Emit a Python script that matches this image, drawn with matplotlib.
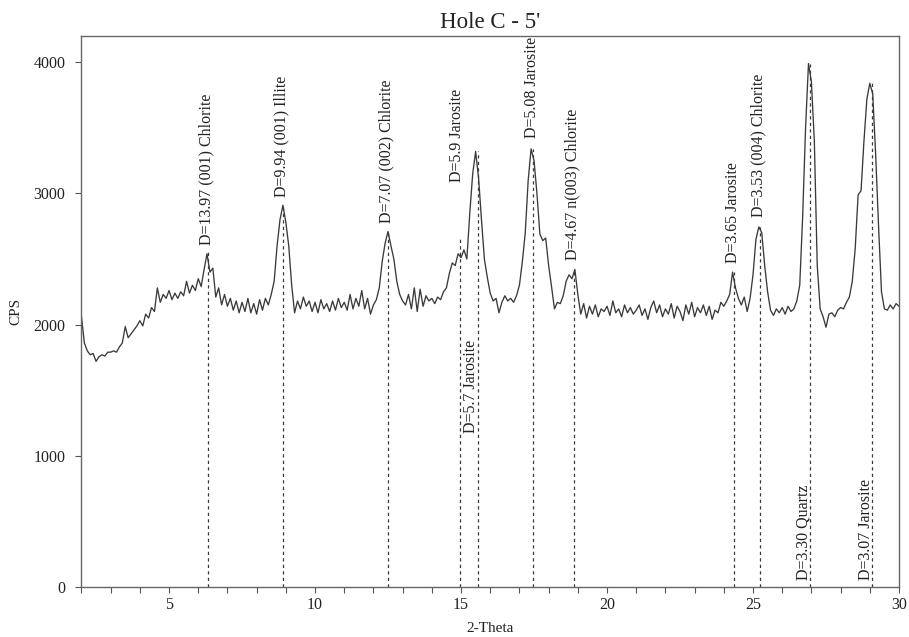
import matplotlib
matplotlib.use("Agg")
import matplotlib.pyplot as plt
from matplotlib.ticker import MultipleLocator
import numpy as np

plt.rcParams['font.family'] = ['Liberation Serif', 'DejaVu Serif']

# 2-theta grid (0.1 deg steps) and counts
two_theta = np.round(np.arange(20, 301) / 10.0, 1)
cps = [
    2060, 1860, 1800, 1770, 1780, 1720, 1755, 1770, 1760, 1790,   # 2.0
    1790, 1800, 1790, 1830, 1860, 1985, 1900, 1930, 1960, 1990,   # 3.0
    2030, 1990, 2080, 2050, 2130, 2100, 2280, 2170, 2230, 2200,   # 4.0
    2260, 2190, 2240, 2200, 2250, 2220, 2330, 2240, 2300, 2260,   # 5.0
    2350, 2290, 2420, 2540, 2400, 2430, 2210, 2280, 2150, 2230,   # 6.0
    2140, 2200, 2110, 2180, 2090, 2170, 2100, 2200, 2090, 2160,   # 7.0
    2080, 2190, 2110, 2200, 2150, 2230, 2330, 2600, 2800, 2910,   # 8.0
    2780, 2600, 2300, 2090, 2180, 2120, 2210, 2140, 2180, 2100,   # 9.0
    2170, 2090, 2190, 2120, 2160, 2100, 2180, 2110, 2200, 2130,   # 10.0
    2170, 2110, 2230, 2120, 2200, 2140, 2260, 2120, 2200, 2080,   # 11.0
    2150, 2190, 2280, 2480, 2620, 2710, 2600, 2500, 2330, 2230,   # 12.0
    2180, 2150, 2230, 2120, 2280, 2100, 2270, 2140, 2220, 2180,   # 13.0
    2200, 2160, 2210, 2190, 2250, 2280, 2390, 2470, 2450, 2540,   # 14.0
    2510, 2570, 2500, 2850, 3150, 3320, 3120, 2800, 2500, 2360,   # 15.0
    2240, 2180, 2200, 2090, 2170, 2220, 2180, 2200, 2170, 2220,   # 16.0
    2300, 2480, 2700, 3100, 3340, 3250, 3000, 2690, 2640, 2660,   # 17.0
    2450, 2290, 2120, 2170, 2160, 2220, 2330, 2380, 2350, 2420,   # 18.0
    2230, 2080, 2160, 2050, 2140, 2080, 2150, 2060, 2120, 2100,   # 19.0
    2140, 2070, 2180, 2090, 2120, 2060, 2150, 2090, 2130, 2080,   # 20.0
    2110, 2150, 2070, 2120, 2040, 2130, 2180, 2090, 2150, 2060,   # 21.0
    2120, 2080, 2160, 2050, 2140, 2100, 2030, 2150, 2080, 2170,   # 22.0
    2060, 2130, 2090, 2150, 2070, 2140, 2040, 2110, 2090, 2170,   # 23.0
    2140, 2180, 2230, 2400, 2280, 2200, 2150, 2210, 2100, 2200,   # 24.0
    2380, 2650, 2745, 2700, 2450, 2250, 2110, 2070, 2120, 2090,   # 25.0
    2130, 2080, 2140, 2100, 2120, 2180, 2300, 2820, 3500, 3990,   # 26.0
    3850, 3400, 2450, 2120, 2060, 1980, 2080, 2090, 2060, 2110,   # 27.0
    2130, 2120, 2170, 2210, 2330, 2580, 2990, 3020, 3400, 3720,   # 28.0
    3840, 3760, 3300, 2750, 2250, 2120, 2110, 2150, 2120, 2160,   # 29.0
    2140,                                                         # 30.0
]

# identified reflections
peak_pos = [6.34, 8.9, 12.5, 14.96, 15.57, 17.47, 18.87, 24.35, 25.24, 26.96, 29.07]
peak_top = [2550, 2910, 2710, 2670, 3320, 3340, 2420, 2400, 2745, 3990, 3840]
peak_names = ['D=13.97 (001) Chlorite', 'D=9.94 (001) Illite', 'D=7.07 (002) Chlorite',
              'D=5.9 Jarosite', 'D=5.7 Jarosite', 'D=5.08 Jarosite',
              'D=4.67 n(003) Chlorite', 'D=3.65 Jarosite', 'D=3.53 (004) Chlorite',
              'D=3.30 Quartz', 'D=3.07 Jarosite']
# where each label starts (bottom of rotated text) and its sideways shift
label_y = [2610, 2975, 2775, 3090, 1175, 3425, 2495, 2470, 2820, 55, 55]
label_dx = [-1, -1, -1, -2, -4.5, -1, -1, -1, -1, -4.5, -4.5]

fig = plt.figure(figsize=(9.09, 6.37), dpi=100)
ax = fig.add_axes([0.0896, 0.0785, 0.8994, 0.865])

ink = '#3a3a3a'
ax.plot(two_theta, cps, color=ink, lw=0.95)
ax.vlines(peak_pos, 0, peak_top, colors=ink, linestyles=(0, (2.6, 2.6)), lw=0.9)

for x, name, y, dx in zip(peak_pos, peak_names, label_y, label_dx):
    ax.annotate(name, xy=(x, y), xytext=(dx, 0), textcoords='offset points',
                rotation=90, ha='center', va='bottom', fontsize=11.5, color='#222222')

ax.set_xlim(2, 30)
ax.set_ylim(0, 4200)
ax.xaxis.set_major_locator(MultipleLocator(5))
ax.xaxis.set_minor_locator(MultipleLocator(1))
ax.yaxis.set_major_locator(MultipleLocator(1000))
ax.tick_params(which='both', direction='out', length=4.5, width=0.8, colors='#555555',
               labelcolor='#222222', labelsize=11.5)
ax.tick_params(axis='x', pad=3)
ax.tick_params(axis='y', pad=7)
for sp in ax.spines.values():
    sp.set_color('#666666')
    sp.set_linewidth(1.0)

ax.set_title("Hole C - 5'", fontsize=16.5, color='#222222', pad=6)
ax.set_xlabel('2-Theta', fontsize=11, color='#222222', labelpad=6)
ax.set_ylabel('CPS', fontsize=11, color='#222222', labelpad=8)

fig.savefig('out.png', dpi=100)
